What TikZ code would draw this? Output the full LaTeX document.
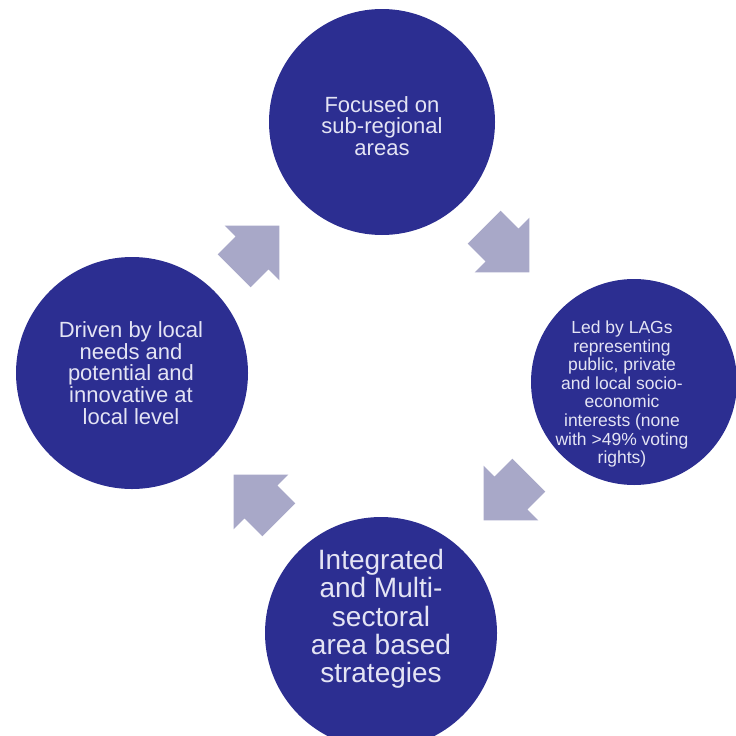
\documentclass[tikz,border=0pt]{standalone}
\usepackage{fontspec}
\setmainfont{Liberation Sans}
\usetikzlibrary{shapes.arrows}
\definecolor{leaderblue}{RGB}{44,46,145}
\definecolor{leadertext}{RGB}{228,228,244}
\definecolor{cyclegrey}{RGB}{168,168,200}

\begin{document}
\begin{tikzpicture}[x=1pt,y=-1pt,
  disc/.style={circle,fill=leaderblue,inner sep=0pt},
  disctext/.style={text=leadertext,align=center,inner sep=0pt},
  turn/.style={single arrow,fill=cyclegrey,inner sep=0pt,minimum height=64pt,anchor=tail,
    text width=0pt,text height=23pt,text depth=23pt,single arrow head extend=15.5pt}]
\useasboundingbox (0,0) rectangle (736,736);
\node[disc,minimum size=226pt] (focus) at (382,122) {};
\node[disc,minimum size=206pt] (lags) at (634,382) {};
\node[disc,minimum size=232pt] (strat) at (381,633) {};
\node[disc,minimum size=232pt] (drive) at (132,373) {};
\node[disctext,font=\fontsize{22}{21.7}\selectfont] (focus-text) at (382,126)
  {Focused on\\sub-regional\\areas};
\node[disctext,font=\fontsize{17.5}{18.6}\selectfont] (lags-text) at (622,394)
  {Led by LAGs\\representing\\public, private\\and local socio-\\economic\\interests (none\\with >49\% voting\\rights)};
\node[disctext,font=\fontsize{28}{28.3}\selectfont] (strat-text) at (381,619)
  {Integrated\\and Multi-\\sectoral\\area based\\strategies};
\node[disctext,font=\fontsize{22}{21.7}\selectfont] (drive-text) at (131,373)
  {Driven by local\\needs and\\potential and\\innovative at\\local level};
\node[turn,rotate=45] (drive-focus) at (234,271) {};
\node[turn,rotate=-45] (focus-lags) at (484,227) {};
\node[turn,rotate=-135] (lags-strat) at (529,475) {};
\node[turn,rotate=135] (strat-drive) at (279,520) {};
\end{tikzpicture}
\end{document}
